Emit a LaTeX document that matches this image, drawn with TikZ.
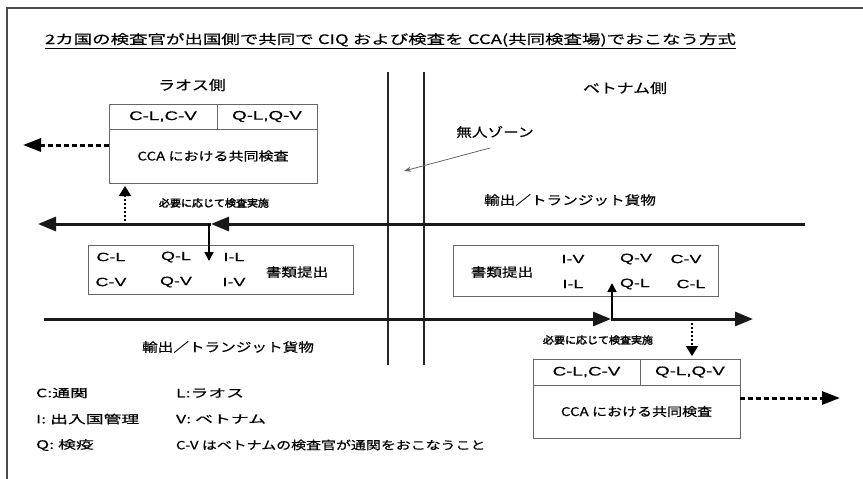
\documentclass[tikz,border=0pt]{standalone}
\usepackage{fontspec}
\setmainfont{Noto Sans CJK JP}[FakeStretch=1.25,FakeBold=0.4]
\newfontfamily\titlefont{Noto Sans CJK JP}[FakeStretch=1.42,FakeBold=0.3]
\newfontfamily\latfont{Liberation Sans}[FakeStretch=1.5,FakeBold=0.3]
\newfontfamily\notefont{Noto Sans CJK JP}[FakeStretch=1.1,FakeBold=2.5]
\newfontfamily\legfont{Noto Sans CJK JP}[FakeStretch=1.3,FakeBold=0.4]
\newfontfamily\legwfont{Noto Sans CJK JP}[FakeStretch=1.55,FakeBold=0.4]
\usetikzlibrary{arrows.meta}
\begin{document}
\begin{tikzpicture}[x=1pt,y=-1pt,
  every node/.style={inner sep=0pt, outer sep=0pt},
  txt/.style={font=\fontsize{12.5}{14}\selectfont},
  side/.style={font=\fontsize{13.5}{15}\selectfont},
  lat/.style={font=\latfont\fontsize{12}{14}\selectfont},
  hdr/.style={draw=black!60, line width=0.8pt, font=\latfont\fontsize{12.5}{14}\selectfont},
  body/.style={draw=black!60, line width=0.8pt, font=\fontsize{12}{14}\selectfont},
  docbox/.style={draw=black!60, line width=0.8pt},
  note/.style={font=\notefont\fontsize{10}{12}\selectfont},
  leg/.style={font=\legfont\fontsize{11.5}{13}\selectfont, anchor=west},
  legw/.style={font=\legwfont\fontsize{11.5}{13}\selectfont, anchor=west},
  cargo/.style={line width=3pt, draw=black!90, -{Triangle[length=18pt,width=14pt]}},
  thin/.style={line width=1.6pt, -{Triangle[length=9pt,width=9pt]}},
  dotv/.style={line width=2pt, dash pattern=on 2pt off 2pt, -{Triangle[length=10pt,width=12pt]}},
  doth/.style={line width=3pt, dash pattern=on 5pt off 3pt, -{Triangle[length=18pt,width=13pt]}},
  zone/.style={line width=2pt, draw=black!85},
  frame/.style={line width=2pt, draw=black!70}
]
\useasboundingbox (0,0) rectangle (863,479);
\fill[white] (0,0) rectangle (863,479);

% frame
\draw[frame] (7,479) -- (7,8) -- (863,8);

% title
\node[anchor=base west, font=\titlefont\fontsize{13}{15}\selectfont] (title) at (45,44)
  {\underline{2カ国の検査官が出国側で共同で CIQ および検査を CCA(共同検査場)でおこなう方式}};

% side labels
\node[side] (lao) at (192,85) {ラオス側};
\node[side] (vn) at (625,88) {ベトナム側};

% no-man's zone lines
\coordinate (z1t) at (388,72); \coordinate (z1b) at (388,365);
\coordinate (z2t) at (424,72); \coordinate (z2b) at (424,365);
\draw[zone] (z1t) -- (z1b);
\draw[zone] (z2t) -- (z2b);
\node[txt] (zonelbl) at (495,132) {無人ゾーン};
\coordinate (zs) at (490,148);
\coordinate (ze) at (404,171);
\draw[black!60, line width=0.8pt, -{Stealth[length=7pt,width=5pt]}] (zs) -- (ze);

% top-left CCA box
\node[hdr, minimum width=108pt, minimum height=25pt] (lha) at (163,116.5) {C-L,C-V};
\node[hdr, minimum width=100pt, minimum height=25pt] (lhb) at (267,116.5) {Q-L,Q-V};
\node[body, minimum width=208pt, minimum height=54pt] (ccaL) at (213,156) {\raisebox{-3pt}{CCA における共同検査}};

% bottom-right CCA box
\node[hdr, minimum width=107pt, minimum height=26pt] (rha) at (586.5,372) {C-L,C-V};
\node[hdr, minimum width=100pt, minimum height=26pt] (rhb) at (690,372) {Q-L,Q-V};
\node[body, minimum width=207pt, minimum height=53pt] (ccaR) at (636.5,411.5) {\raisebox{-2pt}{CCA における共同検査}};

% dotted outward arrows
\coordinate (outL) at (23,145);
\coordinate (outR) at (840,398);
\draw[doth] (ccaL.west |- outL) -- (outL);
\draw[doth] (ccaR.east |- outR) -- (outR);

% top cargo line (to the left)
\coordinate (tR) at (805,224);
\coordinate (tM) at (211,224);
\coordinate (tL) at (38,224);
\draw[cargo] (tR) -- (tM);
\draw[cargo] (tM) -- (tL);
\node[txt] (cargoT) at (570,200) {輸出／トランジット貨物};
\node[note] (needL) at (214,203) {必要に応じて検査実施};

% left document box
\node[docbox, minimum width=265pt, minimum height=49pt] (docL) at (220.5,269.5) {};
\node[lat] (l11) at (111,257) {C-L};
\node[lat] (l12) at (176,257) {Q-L};
\node[lat] (l13) at (234,257) {I-L};
\node[lat] (l21) at (111,282) {C-V};
\node[lat] (l22) at (176,282) {Q-V};
\node[lat] (l23) at (234,282) {I-V};
\node[txt] (shL) at (297,272) {書類提出};
\coordinate (dL) at (209,261);
\draw[thin] (tM -| dL) -- (dL);
\coordinate (upL) at (125,186);
\draw[dotv] (upL |- tM) ++(0,-3) -- (upL);

% bottom cargo line (to the right)
\coordinate (bL) at (44,319);
\coordinate (bM) at (611,319);
\coordinate (bR) at (753,319);
\draw[cargo] (bL) -- (bM);
\draw[cargo] (bM) -- (bR);
\node[txt] (cargoB) at (228,347) {輸出／トランジット貨物};
\node[note] (needR) at (598,340) {必要に応じて検査実施};

% right document box
\node[docbox, minimum width=265pt, minimum height=51pt] (docR) at (585.5,270.5) {};
\node[txt] (shR) at (502,272) {書類提出};
\node[lat] (r11) at (573,259) {I-V};
\node[lat] (r12) at (636,259) {Q-V};
\node[lat] (r13) at (686,259) {C-V};
\node[lat] (r21) at (573,284) {I-L};
\node[lat] (r22) at (635,284) {Q-L};
\node[lat] (r23) at (691,284) {C-L};
\coordinate (uR) at (612,283);
\draw[thin] (bM -| uR) -- (uR);
\coordinate (dR) at (692,356);
\draw[dotv] (dR |- bM) ++(0,4) -- (dR);

% legend
\node[legw] (g1) at (36,393) {C:通関};
\node[legw] (g2) at (36,419) {I: 出入国管理};
\node[legw] (g3) at (36,445) {Q: 検疫};
\node[legw] (g4) at (176,393) {L:ラオス};
\node[legw] (g5) at (176,419) {V: ベトナム};
\node[leg] (g6) at (176,445) {C-V はベトナムの検査官が通関をおこなうこと};
\end{tikzpicture}
\end{document}
